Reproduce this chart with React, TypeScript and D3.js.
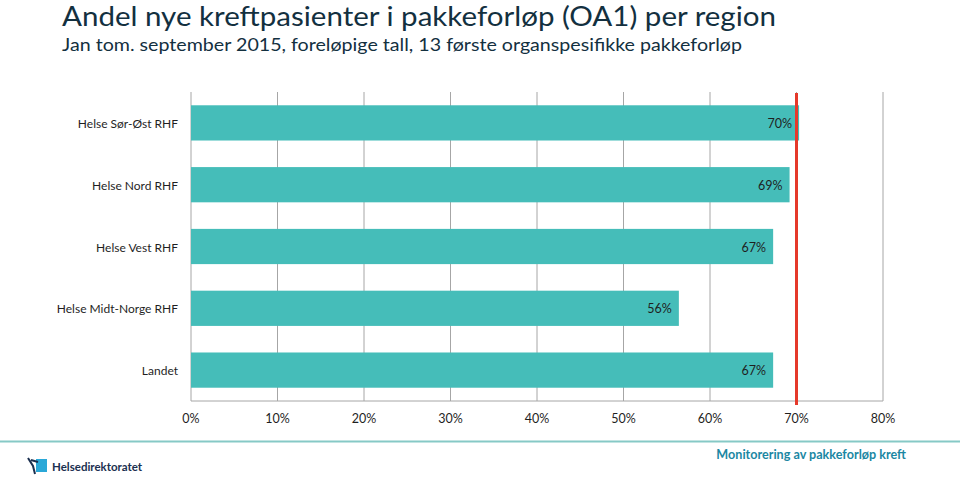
import React from "react";
import * as d3 from "d3";

const categories = ["Helse Sør-Øst RHF", "Helse Nord RHF", "Helse Vest RHF", "Helse Midt-Norge RHF", "Landet"];
const values = [70.3, 69.2, 67.3, 56.4, 67.3];
const valueLabels = ["70%", "69%", "67%", "56%", "67%"];
const ticks = [0, 10, 20, 30, 40, 50, 60, 70, 80];
const targetValue = 70;
const title = "Andel nye kreftpasienter i pakkeforløp (OA1) per region";
const subtitle = "Jan tom. september 2015, foreløpige tall, 13 første organspesifikke pakkeforløp";
const footerRight = "Monitorering av pakkeforløp kreft";
const footerLogo = "Helsedirektoratet";

const W = 960, H = 477;
const plotLeft = 191, plotRight = 883, plotTop = 92, plotBottom = 401;
const FONT = "Lato, 'Open Sans', sans-serif";

export default function App() {
  const x = d3.scaleLinear().domain([0, 80]).range([plotLeft, plotRight]);
  const y = d3.scaleBand<string>().domain(categories).range([plotTop, plotBottom]).paddingInner(0.43).paddingOuter(0.215);
  return (
    <svg width={W} height={H} style={{ position: "absolute", left: 0, top: 0, background: "#fff" }}>
      <text x={62} y={25.5} fontFamily={FONT} fontWeight={400} fontSize={26} fill="#13303f" textLength={714} lengthAdjust="spacingAndGlyphs">{title}</text>
      <text x={62} y={51} fontFamily={FONT} fontWeight={400} fontSize={18} fill="#13303f" textLength={680} lengthAdjust="spacingAndGlyphs">{subtitle}</text>
      {ticks.map((t) => (
        <line key={"g" + t} x1={x(t)} x2={x(t)} y1={plotTop} y2={plotBottom} stroke="#a6a6a6" strokeWidth={1} />
      ))}
      <line x1={plotLeft} x2={plotRight} y1={plotBottom} y2={plotBottom} stroke="#a6a6a6" strokeWidth={1} />
      {categories.map((c, i) => (
        <g key={c}>
          <rect x={x(0)} y={y(c)} width={x(values[i]) - x(0)} height={y.bandwidth()} fill="#45bdb9" />
          <text x={x(values[i]) - 7} y={(y(c) as number) + y.bandwidth() / 2 + 5} textAnchor="end" fontFamily={FONT} fontSize={12.5} fill="#1f1f1f">{valueLabels[i]}</text>
          <text x={178} y={(y(c) as number) + y.bandwidth() / 2 + 5} textAnchor="end" fontFamily={FONT} fontSize={12} fill="#1f1f1f">{c}</text>
        </g>
      ))}
      <line x1={x(targetValue)} x2={x(targetValue)} y1={93} y2={405} stroke="#e5392a" strokeWidth={3} />
      {ticks.map((t) => (
        <text key={"t" + t} x={x(t)} y={423} textAnchor="middle" fontFamily={FONT} fontSize={12.5} fill="#1f1f1f">{t + "%"}</text>
      ))}
      <line x1={0} x2={W} y1={441.5} y2={441.5} stroke="#86c9c6" strokeWidth={2} />
      <text x={906} y={459} textAnchor="end" fontFamily={FONT} fontWeight={700} fontSize={12.6} fill="#1b87a3">{footerRight}</text>
      <g>
        <rect x={36} y={459} width={11} height={13} fill="#2aa8d8" />
        <path d="M28,458 L33,466 L35,474 M31,460 L38,462" stroke="#1b3050" strokeWidth={2} fill="none" />
        <text x={52} y={471} fontFamily={FONT} fontWeight={700} fontSize={11.5} fill="#1b3050">{footerLogo}</text>
      </g>
    </svg>
  );
}
